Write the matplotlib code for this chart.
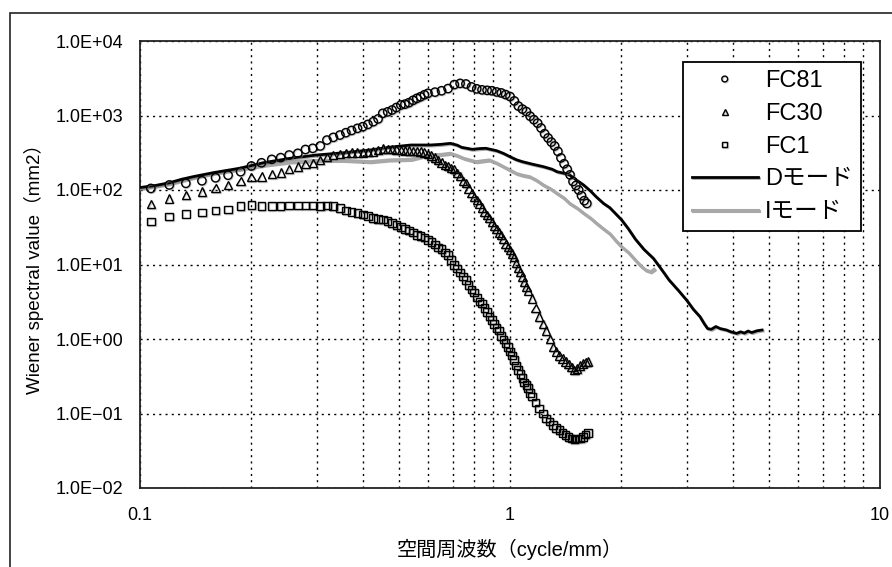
import numpy as np
import matplotlib
matplotlib.use('Agg')
import matplotlib.pyplot as plt
import matplotlib.ticker as mtick
import matplotlib.patheffects as pe
from matplotlib.patches import Rectangle

plt.rcParams['font.family'] = ['Liberation Sans', 'Noto Sans CJK JP', 'DejaVu Sans']

# FC81 (circles)
fc81_f = [0.107, 0.120, 0.133, 0.147, 0.160, 0.173, 0.187, 0.200, 0.213, 0.227,
          0.240, 0.253, 0.267, 0.280, 0.293, 0.307, 0.320, 0.333, 0.347, 0.360,
          0.373, 0.387, 0.400, 0.413, 0.427, 0.440, 0.453, 0.467, 0.480, 0.493,
          0.507, 0.520, 0.533, 0.547, 0.560, 0.573, 0.587, 0.600, 0.627, 0.653,
          0.680, 0.707, 0.733, 0.760, 0.787, 0.813, 0.840, 0.867, 0.893, 0.920,
          0.947, 0.973, 1.000, 1.027, 1.053, 1.080, 1.107, 1.133, 1.160, 1.187,
          1.213, 1.240, 1.267, 1.293, 1.320, 1.347, 1.373, 1.400, 1.427, 1.453,
          1.480, 1.507, 1.533, 1.560, 1.587, 1.613]
fc81_v = [105, 117, 123, 133, 146, 158, 176, 210, 232, 258,
          272, 295, 311, 350, 363, 390, 468, 509, 547, 588,
          630, 673, 708, 760, 826, 900, 1070, 1120, 1186, 1280,
          1384, 1420, 1486, 1600, 1700, 1786, 1900, 1985, 2060, 2150,
          2300, 2600, 2700, 2650, 2420, 2280, 2210, 2180, 2150, 2070,
          2010, 1910, 1800, 1570, 1340, 1220, 1130, 980, 880, 790,
          680, 570, 500, 440, 390, 330, 270, 225, 190, 160,
          130, 115, 100, 84, 72, 66]

# FC30 (triangles)
fc30_f = [0.107, 0.120, 0.133, 0.147, 0.160, 0.173, 0.187, 0.200, 0.213, 0.227,
          0.240, 0.253, 0.267, 0.280, 0.293, 0.307, 0.320, 0.333, 0.347, 0.360,
          0.373, 0.387, 0.400, 0.413, 0.427, 0.440, 0.453, 0.467, 0.480, 0.493,
          0.507, 0.520, 0.533, 0.547, 0.560, 0.573, 0.587, 0.600, 0.613, 0.627,
          0.640, 0.653, 0.667, 0.680, 0.693, 0.707, 0.720, 0.733, 0.747, 0.760,
          0.773, 0.787, 0.800, 0.813, 0.827, 0.840, 0.853, 0.867, 0.880, 0.893,
          0.907, 0.920, 0.933, 0.947, 0.960, 0.973, 0.987, 1.000, 1.013, 1.027,
          1.040, 1.053, 1.067, 1.080, 1.093, 1.107, 1.120, 1.147, 1.173, 1.200,
          1.227, 1.253, 1.280, 1.307, 1.333, 1.360, 1.387, 1.413, 1.440, 1.467,
          1.493, 1.520, 1.547, 1.573, 1.600, 1.627]
fc30_v = [65, 77, 86, 95, 107, 117, 133, 148, 151, 163,
          171, 190, 206, 223, 232, 253, 275, 295, 305, 315,
          318, 320, 320, 325, 330, 345, 360, 358, 352, 348,
          344, 340, 338, 337, 333, 328, 320, 305, 290, 272,
          253, 235, 217, 208, 198, 190, 170, 155, 133, 123,
          105, 92, 80, 73, 66, 58, 51, 46, 42, 37,
          33, 30, 27, 25, 22, 19, 17, 15.5, 14, 12.5,
          10.5, 9.0, 8.0, 6.8, 5.8, 5.0, 4.5, 3.5, 2.6, 2.0,
          1.6, 1.3, 1.0, 0.78, 0.68, 0.60, 0.55, 0.50, 0.46, 0.42,
          0.38, 0.40, 0.44, 0.47, 0.49, 0.50]

# FC1 (squares)
fc1_f = [0.107, 0.120, 0.133, 0.147, 0.160, 0.173, 0.187, 0.200, 0.213, 0.227,
         0.240, 0.253, 0.267, 0.280, 0.293, 0.307, 0.320, 0.333, 0.347, 0.360,
         0.373, 0.387, 0.400, 0.413, 0.427, 0.440, 0.453, 0.467, 0.480, 0.493,
         0.507, 0.520, 0.533, 0.547, 0.560, 0.573, 0.587, 0.600, 0.613, 0.627,
         0.640, 0.653, 0.667, 0.680, 0.693, 0.707, 0.720, 0.733, 0.747, 0.760,
         0.773, 0.787, 0.800, 0.813, 0.827, 0.840, 0.853, 0.867, 0.880, 0.893,
         0.907, 0.920, 0.933, 0.947, 0.960, 0.973, 0.987, 1.000, 1.013, 1.027,
         1.040, 1.053, 1.067, 1.080, 1.093, 1.107, 1.120, 1.133, 1.147, 1.173,
         1.200, 1.227, 1.253, 1.280, 1.307, 1.333, 1.360, 1.387, 1.413, 1.440,
         1.467, 1.493, 1.520, 1.547, 1.573, 1.600, 1.627]
fc1_v = [37.6, 44, 48, 50, 53, 55, 61, 63, 61, 61,
         61, 62, 62, 62, 62, 61, 62, 61, 57, 53,
         51, 49, 47, 45, 42, 41, 40, 38, 36, 34,
         32, 30, 28.5, 27, 25, 24, 23, 21.5, 20, 18.5,
         17, 16, 14.5, 13.4, 11.5, 9.8, 8.8, 7.8, 6.9, 6.2,
         5.3, 4.6, 4.2, 3.6, 3.2, 3.0, 2.6, 2.3, 2.0, 1.8,
         1.6, 1.4, 1.3, 1.1, 0.98, 0.88, 0.78, 0.68, 0.60, 0.52,
         0.44, 0.38, 0.34, 0.30, 0.26, 0.24, 0.22, 0.19, 0.17, 0.14,
         0.117, 0.10, 0.086, 0.078, 0.070, 0.064, 0.060, 0.055, 0.051, 0.048,
         0.046, 0.045, 0.046, 0.046, 0.048, 0.052, 0.055]

# D mode (black line)
dmode_f = [0.100, 0.110, 0.120, 0.130, 0.140, 0.158, 0.186, 0.215, 0.254, 0.300,
           0.354, 0.418, 0.470, 0.540, 0.610, 0.650, 0.690, 0.720, 0.740, 0.790,
           0.830, 0.860, 0.920, 0.960, 1.000, 1.040, 1.080, 1.150, 1.230, 1.300,
           1.340, 1.400, 1.450, 1.500, 1.580, 1.650, 1.710, 1.790, 1.860, 1.930,
           2.000, 2.090, 2.180, 2.300, 2.440, 2.550, 2.690, 2.850, 3.000, 3.130,
           3.260, 3.350, 3.420, 3.500, 3.600, 3.700, 3.850, 3.950, 4.100, 4.200,
           4.300, 4.400, 4.500, 4.650, 4.800]
dmode_v = [108, 115, 125, 140, 152, 171, 196, 232, 266, 295,
           316, 344, 374, 402, 402, 410, 423, 400, 374, 352,
           360, 363, 337, 310, 280, 255, 240, 222, 206, 190,
           176, 168, 159, 140, 117, 97, 81, 66, 58, 48,
           40, 30, 22, 16, 12.1, 9.0, 6.2, 4.5, 3.33, 2.5,
           2.0, 1.6, 1.38, 1.35, 1.47, 1.38, 1.32, 1.25, 1.19, 1.25,
           1.20, 1.28, 1.22, 1.29, 1.32]

# I mode (gray line)
imode_f = [0.100, 0.110, 0.120, 0.130, 0.140, 0.158, 0.186, 0.215, 0.254, 0.300,
           0.354, 0.420, 0.470, 0.540, 0.600, 0.650, 0.690, 0.720, 0.750, 0.810,
           0.850, 0.880, 0.920, 0.960, 1.000, 1.040, 1.080, 1.130, 1.180, 1.230,
           1.290, 1.340, 1.400, 1.450, 1.520, 1.580, 1.650, 1.710, 1.790, 1.860,
           1.930, 2.000, 2.090, 2.180, 2.260, 2.330, 2.400, 2.450]
imode_v = [105, 113, 122, 135, 148, 168, 190, 215, 238, 250,
           250, 240, 253, 258, 295, 300, 311, 290, 266, 240,
           248, 253, 230, 206, 185, 167, 158, 151, 135, 117,
           103, 90, 78, 66, 57, 49, 42, 36, 30, 26,
           21, 17.4, 14.5, 11.5, 9.5, 8.4, 8.0, 8.6]

fig = plt.figure(figsize=(8.92, 5.67), dpi=100)
ax = fig.add_axes([140 / 892, 1 - 488 / 567, 740 / 892, 447 / 567])

# outer frame of the figure (only left and top edges fall inside the image)
fig.add_artist(Rectangle((10 / 892, -0.1), 1.2, 1.1 - 13 / 567,
                         transform=fig.transFigure, fill=False,
                         edgecolor='#222222', linewidth=1.2))

line_shadow = [pe.SimpleLineShadow(offset=(0.8, -0.8), shadow_color='#707070', alpha=0.6),
               pe.Normal()]
mark_shadow = [pe.SimpleLineShadow(offset=(0.6, -0.6), shadow_color='#909090', alpha=0.5),
               pe.Normal()]

ax.plot(imode_f, imode_v, color='#a8a8a8', lw=2.2, zorder=3,
        path_effects=line_shadow, label='Iモード')
ax.plot(dmode_f, dmode_v, color='black', lw=2.0, zorder=4,
        path_effects=line_shadow, label='Dモード')

ax.plot(fc81_f, fc81_v, ls='none', marker='o', ms=6, mfc='none', mec='black',
        mew=1.0, zorder=5, path_effects=mark_shadow, label='FC81')
ax.plot(fc30_f, fc30_v, ls='none', marker='^', ms=6, mfc='none', mec='black',
        mew=1.0, zorder=5, path_effects=mark_shadow, label='FC30')
ax.plot(fc1_f, fc1_v, ls='none', marker='s', ms=5.5, mfc='none', mec='black',
        mew=1.0, zorder=5, path_effects=mark_shadow, label='FC1')

ax.set_xscale('log')
ax.set_yscale('log')
ax.set_xlim(0.1, 10)
ax.set_ylim(1e-2, 1e4)

ax.xaxis.set_major_locator(mtick.FixedLocator([0.1, 1, 10]))
ax.xaxis.set_major_formatter(mtick.FixedFormatter(['0.1', '1', '10']))
ax.xaxis.set_minor_locator(mtick.LogLocator(base=10, subs=np.arange(2, 10)))
ax.xaxis.set_minor_formatter(mtick.NullFormatter())

ax.yaxis.set_major_locator(mtick.LogLocator(base=10, numticks=10))
ax.yaxis.set_minor_locator(mtick.NullLocator())
ax.yaxis.set_major_formatter(mtick.FuncFormatter(
    lambda v, p: ('1.0E%+03d' % int(round(np.log10(v)))).replace('-', '\u2212')))

ax.tick_params(axis='both', which='both', length=0, labelsize=13, colors='black')
ax.tick_params(axis='y', pad=12)
ax.tick_params(axis='x', pad=14)

ax.grid(True, which='major', axis='y', color='black', lw=1.0, ls=(0, (1.5, 3)))
ax.grid(True, which='both', axis='x', color='black', lw=1.0, ls=(0, (1.5, 3)))
ax.set_axisbelow(True)

for sp in ax.spines.values():
    sp.set_color('#222222')
    sp.set_linewidth(1.3)

ax.set_xlabel('空間周波数（cycle/mm）', fontsize=14.5, labelpad=10)
ax.set_ylabel('Wiener spectral value（mm2）', fontsize=13.5, labelpad=8)

handles, labels = ax.get_legend_handles_labels()
order = [2, 3, 4, 1, 0]
leg = ax.legend([handles[i] for i in order], [labels[i] for i in order],
                loc='upper right', bbox_to_anchor=((861 - 140) / 740, (488 - 62) / 447),
                borderaxespad=0, fontsize=17, markerscale=0.7, handlelength=2.8,
                handletextpad=0.3, labelspacing=0.45, borderpad=0.35,
                fancybox=False, framealpha=1, edgecolor='black')
leg.get_frame().set_linewidth(1.3)

fig.savefig('out.png', dpi=100)
